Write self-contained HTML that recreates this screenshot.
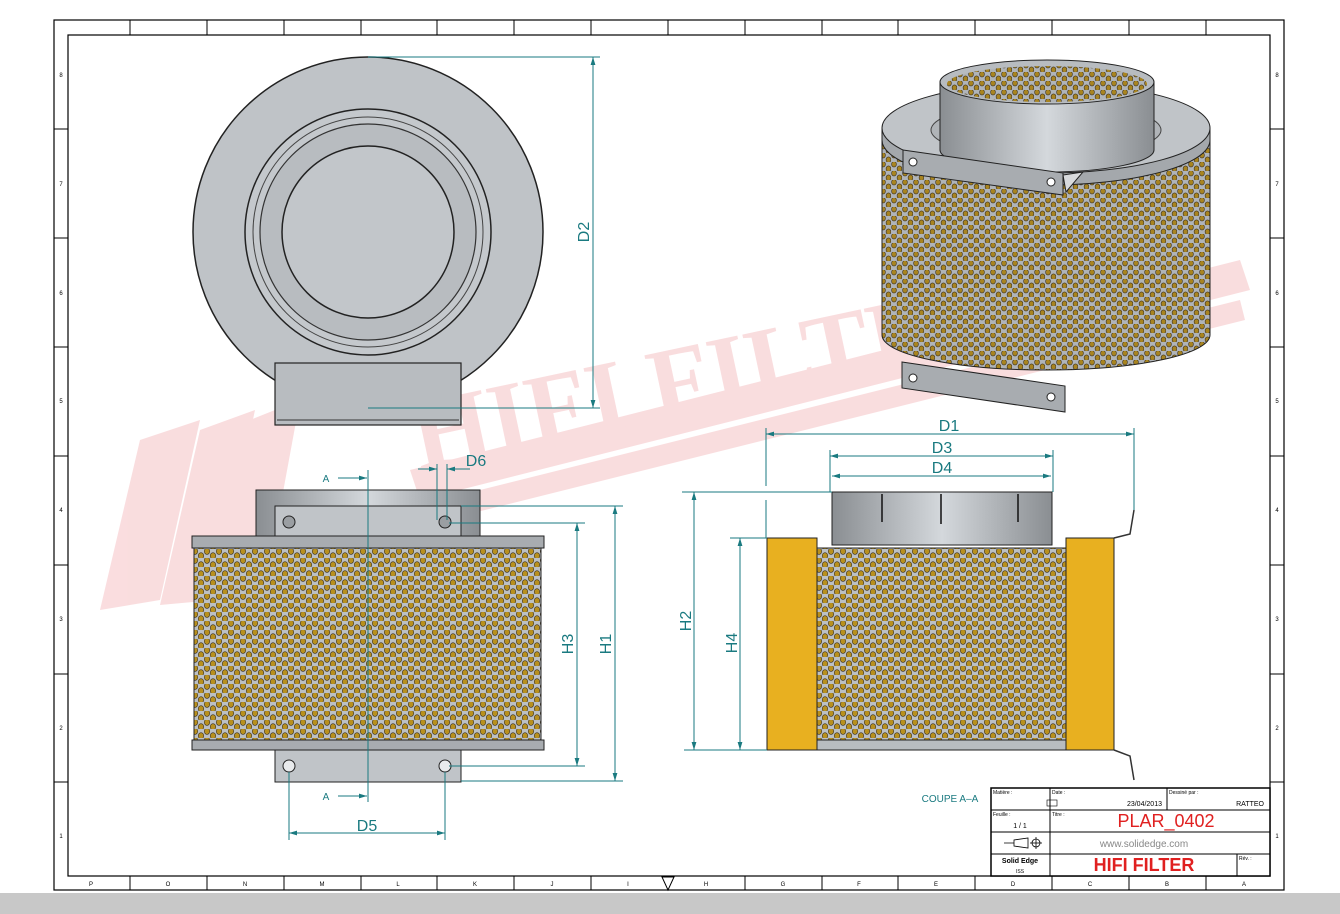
<!DOCTYPE html>
<html><head><meta charset="utf-8"><style>
html,body{margin:0;padding:0;background:#fff;}
svg{display:block;font-family:"Liberation Sans",sans-serif;}
</style></head><body>
<svg width="1340" height="914" viewBox="0 0 1340 914" xmlns="http://www.w3.org/2000/svg">
<defs>
<pattern id="mesh" width="12" height="9" patternUnits="userSpaceOnUse">
<rect width="12" height="9" fill="#bcc0c4"/>
<ellipse cx="3" cy="2.3" rx="2.7" ry="3.1" fill="#b8901e" stroke="#3a3020" stroke-width="0.6"/>
<ellipse cx="9" cy="6.8" rx="2.7" ry="3.1" fill="#b8901e" stroke="#3a3020" stroke-width="0.6"/>
</pattern>
<pattern id="mesh2" width="11" height="9" patternUnits="userSpaceOnUse">
<rect width="11" height="9" fill="#b0b4b8"/>
<ellipse cx="3" cy="2.2" rx="2.4" ry="2.8" fill="#a88420" stroke="#3a3020" stroke-width="0.6"/>
<ellipse cx="8.5" cy="6.7" rx="2.4" ry="2.8" fill="#a88420" stroke="#3a3020" stroke-width="0.6"/>
</pattern>
<linearGradient id="cyl" x1="0" x2="1" y1="0" y2="0">
<stop offset="0" stop-color="#8a8e92"/><stop offset="0.5" stop-color="#d4d8dc"/><stop offset="1" stop-color="#8a8e92"/>
</linearGradient>
<marker id="ar" viewBox="0 0 10 6" refX="10" refY="3" markerWidth="8" markerHeight="5" orient="auto-start-reverse"><path d="M0,0 L10,3 L0,6 z" fill="#1a7a80"/></marker>
</defs>

<rect x="0" y="893" width="1340" height="21" fill="#c8c8c8"/>

<!-- watermark -->
<g fill="#f8d2d4" opacity="0.75">
<polygon points="140,440 200,420 160,600 100,610"/>
<polygon points="200,430 255,410 215,600 160,605"/>
<polygon points="250,420 300,400 265,590 215,600"/>
<polygon points="410,470 1240,260 1250,290 420,500"/>
<polygon points="400,510 1240,300 1245,320 405,530"/>
<text x="420" y="470" font-size="100" font-weight="bold" font-family="Liberation Serif,serif" transform="rotate(-12 420 470)">HIFI FILTER</text>
</g>

<!-- frame -->
<rect x="54" y="20" width="1230" height="870" fill="none" stroke="#000" stroke-width="1.2"/>
<rect x="68" y="35" width="1202" height="841" fill="none" stroke="#000" stroke-width="1.2"/>
<g stroke="#000" stroke-width="1">
<line x1="130" y1="20" x2="130" y2="35"/><line x1="207" y1="20" x2="207" y2="35"/><line x1="284" y1="20" x2="284" y2="35"/><line x1="361" y1="20" x2="361" y2="35"/><line x1="437" y1="20" x2="437" y2="35"/><line x1="514" y1="20" x2="514" y2="35"/><line x1="591" y1="20" x2="591" y2="35"/><line x1="668" y1="20" x2="668" y2="35"/><line x1="745" y1="20" x2="745" y2="35"/><line x1="822" y1="20" x2="822" y2="35"/><line x1="898" y1="20" x2="898" y2="35"/><line x1="975" y1="20" x2="975" y2="35"/><line x1="1052" y1="20" x2="1052" y2="35"/><line x1="1129" y1="20" x2="1129" y2="35"/><line x1="1206" y1="20" x2="1206" y2="35"/>
<line x1="130" y1="876" x2="130" y2="890"/><line x1="207" y1="876" x2="207" y2="890"/><line x1="284" y1="876" x2="284" y2="890"/><line x1="361" y1="876" x2="361" y2="890"/><line x1="437" y1="876" x2="437" y2="890"/><line x1="514" y1="876" x2="514" y2="890"/><line x1="591" y1="876" x2="591" y2="890"/><line x1="745" y1="876" x2="745" y2="890"/><line x1="822" y1="876" x2="822" y2="890"/><line x1="898" y1="876" x2="898" y2="890"/><line x1="975" y1="876" x2="975" y2="890"/><line x1="1052" y1="876" x2="1052" y2="890"/><line x1="1129" y1="876" x2="1129" y2="890"/><line x1="1206" y1="876" x2="1206" y2="890"/>
<line x1="54" y1="129" x2="68" y2="129"/><line x1="54" y1="238" x2="68" y2="238"/><line x1="54" y1="347" x2="68" y2="347"/><line x1="54" y1="456" x2="68" y2="456"/><line x1="54" y1="565" x2="68" y2="565"/><line x1="54" y1="674" x2="68" y2="674"/><line x1="54" y1="782" x2="68" y2="782"/>
<line x1="1270" y1="129" x2="1284" y2="129"/><line x1="1270" y1="238" x2="1284" y2="238"/><line x1="1270" y1="347" x2="1284" y2="347"/><line x1="1270" y1="456" x2="1284" y2="456"/><line x1="1270" y1="565" x2="1284" y2="565"/><line x1="1270" y1="674" x2="1284" y2="674"/><line x1="1270" y1="782" x2="1284" y2="782"/>
</g>
<path d="M662,877 L674,877 L668,890 z" fill="none" stroke="#000"/>
<g font-size="6" fill="#000" text-anchor="middle">
<text x="91" y="886">P</text><text x="168" y="886">O</text><text x="245" y="886">N</text><text x="322" y="886">M</text><text x="398" y="886">L</text><text x="475" y="886">K</text><text x="552" y="886">J</text><text x="628" y="886">I</text><text x="706" y="886">H</text><text x="783" y="886">G</text><text x="859" y="886">F</text><text x="936" y="886">E</text><text x="1013" y="886">D</text><text x="1090" y="886">C</text><text x="1167" y="886">B</text><text x="1244" y="886">A</text>
<text x="1277" y="77">8</text><text x="1277" y="186">7</text><text x="1277" y="295">6</text><text x="1277" y="403">5</text><text x="1277" y="512">4</text><text x="1277" y="621">3</text><text x="1277" y="730">2</text><text x="1277" y="838">1</text>
<text x="61" y="77">8</text><text x="61" y="186">7</text><text x="61" y="295">6</text><text x="61" y="403">5</text><text x="61" y="512">4</text><text x="61" y="621">3</text><text x="61" y="730">2</text><text x="61" y="838">1</text>
</g>

<!-- TOP VIEW -->
<circle cx="368" cy="232" r="175" fill="#bfc3c7" stroke="#222" stroke-width="1.5"/>
<circle cx="368" cy="232" r="123" fill="#c4c8cc" stroke="#222" stroke-width="1.5"/>
<circle cx="368" cy="232" r="115" fill="none" stroke="#444" stroke-width="1"/>
<circle cx="368" cy="232" r="108" fill="#b8bcc0" stroke="#333" stroke-width="1.2"/>
<circle cx="368" cy="232" r="86" fill="#c2c6ca" stroke="#222" stroke-width="1.5"/>
<rect x="275" y="363" width="186" height="62" fill="#b8bcc0" stroke="#222" stroke-width="1.2"/>
<line x1="277" y1="420" x2="459" y2="420" stroke="#333"/>
<g stroke="#1a7a80" stroke-width="1" fill="none">
<line x1="368" y1="57" x2="600" y2="57"/><line x1="368" y1="408" x2="600" y2="408"/>
<line x1="593" y1="57" x2="593" y2="408" marker-start="url(#ar)" marker-end="url(#ar)"/>
</g>
<text x="589" y="232" font-size="16" fill="#1a7a80" text-anchor="middle" transform="rotate(-90 589 232)">D2</text>

<!-- FRONT VIEW -->
<rect x="256" y="490" width="224" height="46" fill="url(#cyl)" stroke="#222"/>
<rect x="275" y="506" width="186" height="30" fill="#c0c4c8" stroke="#222"/>
<circle cx="289" cy="522" r="6" fill="#9a9ea2" stroke="#222"/>
<circle cx="445" cy="522" r="6" fill="#9a9ea2" stroke="#222"/>
<rect x="192" y="536" width="352" height="12" fill="#a8acb0" stroke="#222"/>
<rect x="194" y="548" width="347" height="192" fill="url(#mesh)" stroke="#222"/>
<rect x="192" y="740" width="352" height="10" fill="#a8acb0" stroke="#222"/>
<rect x="275" y="750" width="186" height="32" fill="#c0c4c8" stroke="#222"/>
<circle cx="289" cy="766" r="6" fill="#e8eaec" stroke="#222"/>
<circle cx="445" cy="766" r="6" fill="#e8eaec" stroke="#222"/>
<g stroke="#1a7a80" stroke-width="1" fill="none">
<line x1="368" y1="470" x2="368" y2="802"/>
<line x1="338" y1="478" x2="367" y2="478" marker-end="url(#ar)"/>
<line x1="338" y1="796" x2="367" y2="796" marker-end="url(#ar)"/>
<line x1="437" y1="464" x2="437" y2="520"/><line x1="447" y1="464" x2="447" y2="520"/>
<line x1="418" y1="469" x2="437" y2="469" marker-end="url(#ar)"/>
<line x1="470" y1="469" x2="447" y2="469" marker-end="url(#ar)"/>
<line x1="461" y1="506" x2="623" y2="506"/><line x1="449" y1="523" x2="585" y2="523"/>
<line x1="449" y1="766" x2="585" y2="766"/><line x1="461" y1="781" x2="623" y2="781"/>
<line x1="577" y1="523" x2="577" y2="766" marker-start="url(#ar)" marker-end="url(#ar)"/>
<line x1="615" y1="506" x2="615" y2="781" marker-start="url(#ar)" marker-end="url(#ar)"/>
<line x1="289" y1="772" x2="289" y2="840"/><line x1="445" y1="772" x2="445" y2="840"/>
<line x1="289" y1="833" x2="445" y2="833" marker-start="url(#ar)" marker-end="url(#ar)"/>
</g>
<g fill="#1a7a80" font-size="16" text-anchor="middle">
<text x="326" y="482" font-size="10">A</text><text x="326" y="800" font-size="10">A</text>
<text x="476" y="466">D6</text>
<text x="367" y="831">D5</text>
<text x="573" y="644" transform="rotate(-90 573 644)">H3</text>
<text x="611" y="644" transform="rotate(-90 611 644)">H1</text>
</g>

<!-- SECTION VIEW -->
<rect x="832" y="492" width="220" height="53" fill="url(#cyl)" stroke="#222"/>
<line x1="882" y1="494" x2="882" y2="522" stroke="#111" stroke-width="1.5"/><line x1="941" y1="494" x2="941" y2="524" stroke="#111" stroke-width="1.5"/><line x1="1018" y1="494" x2="1018" y2="522" stroke="#111" stroke-width="1.5"/>
<rect x="767" y="538" width="50" height="212" fill="#e8b020" stroke="#222"/>
<rect x="1066" y="538" width="48" height="212" fill="#e8b020" stroke="#222"/>
<rect x="817" y="548" width="249" height="192" fill="url(#mesh)" stroke="#222"/>
<rect x="817" y="740" width="249" height="10" fill="#b8bcc0" stroke="#222"/>
<path d="M1114,538 L1130,534 L1134,510 M1114,750 L1130,756 L1134,780" fill="none" stroke="#333" stroke-width="1.5"/>
<g stroke="#1a7a80" stroke-width="1" fill="none">
<line x1="766" y1="428" x2="766" y2="486"/><line x1="766" y1="500" x2="766" y2="538"/>
<line x1="1134" y1="428" x2="1134" y2="510"/>
<line x1="830" y1="450" x2="830" y2="492"/><line x1="1053" y1="450" x2="1053" y2="492"/>
<line x1="766" y1="434" x2="1134" y2="434" marker-start="url(#ar)" marker-end="url(#ar)"/>
<line x1="830" y1="456" x2="1053" y2="456" marker-start="url(#ar)" marker-end="url(#ar)"/>
<line x1="832" y1="476" x2="1051" y2="476" marker-start="url(#ar)" marker-end="url(#ar)"/>
<line x1="682" y1="492" x2="832" y2="492"/><line x1="730" y1="538" x2="767" y2="538"/><line x1="684" y1="750" x2="767" y2="750"/>
<line x1="694" y1="492" x2="694" y2="750" marker-start="url(#ar)" marker-end="url(#ar)"/>
<line x1="740" y1="538" x2="740" y2="750" marker-start="url(#ar)" marker-end="url(#ar)"/>
</g>
<g fill="#1a7a80" font-size="16" text-anchor="middle">
<text x="949" y="431">D1</text><text x="942" y="453">D3</text><text x="942" y="473">D4</text>
<text x="691" y="621" transform="rotate(-90 691 621)">H2</text>
<text x="737" y="643" transform="rotate(-90 737 643)">H4</text>
<text x="950" y="802" font-size="10">COUPE A–A</text>
</g>

<!-- 3D VIEW -->
<path d="M882,128 L882,335 A164,35 0 0 0 1210,335 L1210,128 z" fill="url(#mesh2)" stroke="#222"/>
<path d="M882,128 L882,140 A164,45 0 0 0 1210,140 L1210,128 z" fill="#a4a8ac" stroke="#222"/>
<ellipse cx="1046" cy="128" rx="164" ry="45" fill="#c0c4c8" stroke="#222"/>
<ellipse cx="1046" cy="130" rx="115" ry="28" fill="#b0b4b8" stroke="#444"/>
<path d="M940,82 L940,150 A107,22 0 0 0 1154,150 L1154,82 z" fill="url(#cyl)" stroke="#222"/>
<ellipse cx="1047" cy="82" rx="107" ry="22" fill="#b8bcc0" stroke="#222"/>
<ellipse cx="1047" cy="84" rx="100" ry="18" fill="url(#mesh2)"/>
<path d="M903,150 L1063,173 L1063,195 L903,173 z" fill="#a8acb0" stroke="#222"/>
<path d="M1063,175 L1083,172 L1066,192 z" fill="#d8dadc" stroke="#222"/>
<circle cx="913" cy="162" r="4" fill="#fff" stroke="#222"/><circle cx="1051" cy="182" r="4" fill="#fff" stroke="#222"/>
<path d="M902,362 L1065,386 L1065,412 L902,388 z" fill="#a8acb0" stroke="#222"/>
<circle cx="913" cy="378" r="4" fill="#fff" stroke="#222"/><circle cx="1051" cy="397" r="4" fill="#fff" stroke="#222"/>

<!-- TITLE BLOCK -->
<rect x="991" y="788" width="279" height="88" fill="#fff" stroke="#000" stroke-width="1.5"/>
<g stroke="#000" stroke-width="1">
<line x1="991" y1="810" x2="1270" y2="810"/><line x1="991" y1="832" x2="1270" y2="832"/><line x1="991" y1="854" x2="1270" y2="854"/>
<line x1="1050" y1="788" x2="1050" y2="876"/><line x1="1167" y1="788" x2="1167" y2="810"/><line x1="1237" y1="854" x2="1237" y2="876"/>
</g>
<g font-size="5" fill="#000">
<text x="993" y="794">Matière :</text><text x="1052" y="794">Date :</text><text x="1169" y="794">Dessiné par :</text>
<text x="993" y="816">Feuille :</text><text x="1052" y="816">Titre :</text><text x="1239" y="860">Rév. :</text>
</g>
<rect x="1047" y="800" width="10" height="6" fill="none" stroke="#000" stroke-width="0.6"/>
<text x="1162" y="806" font-size="7" text-anchor="end">23/04/2013</text>
<text x="1264" y="806" font-size="7" text-anchor="end">RATTEO</text>
<text x="1020" y="828" font-size="7" text-anchor="middle">1 / 1</text>
<text x="1166" y="827" font-size="18" fill="#e02020" text-anchor="middle">PLAR_0402</text>
<text x="1144" y="847" font-size="10" fill="#888" text-anchor="middle">www.solidedge.com</text>
<text x="1144" y="871" font-size="18" font-weight="bold" fill="#e02020" text-anchor="middle">HIFI FILTER</text>
<text x="1020" y="863" font-size="7" font-weight="bold" text-anchor="middle">Solid Edge</text>
<text x="1020" y="873" font-size="5" text-anchor="middle">ISS</text>
<g stroke="#000" stroke-width="0.8" fill="none">
<path d="M1004,843 L1014,843 L1014,840 L1028,838 L1028,848 L1014,846 L1014,843"/>
<circle cx="1036" cy="843" r="4"/><line x1="1030" y1="843" x2="1042" y2="843"/><line x1="1036" y1="837" x2="1036" y2="849"/>
</g>
</svg>
</body></html>
